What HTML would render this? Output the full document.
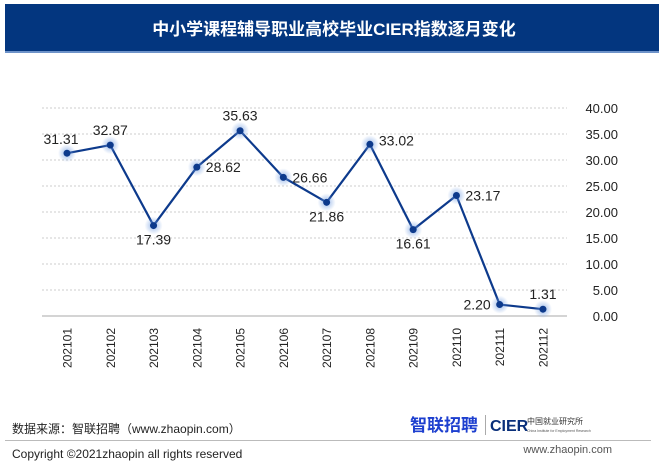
<!DOCTYPE html>
<html><head><meta charset="utf-8"><style>
body{margin:0;background:#fff;width:659px;height:468px;overflow:hidden;font-family:"Liberation Sans","Noto Sans CJK SC",sans-serif;}
</style></head><body>
<svg width="659" height="468" xmlns="http://www.w3.org/2000/svg">
<defs><radialGradient id="glow"><stop offset="0" stop-color="#6f9be0" stop-opacity="0.7"/><stop offset="1" stop-color="#6f9be0" stop-opacity="0"/></radialGradient></defs>
<rect x="5" y="4" width="654" height="48" fill="#03367f"/>
<rect x="5" y="51" width="654" height="2" fill="#6e93c9"/>
<text x="334" y="35" text-anchor="middle" font-size="17" font-weight="bold" fill="#fff" font-family="Liberation Sans,Noto Sans CJK SC,sans-serif">中小学课程辅导职业高校毕业CIER指数逐月变化</text>
<g id="grid"></g><g id="yticks"></g><g id="xticks"></g><g id="series"></g>
<text x="12" y="433" font-size="12" fill="#222">数据来源：智联招聘（www.zhaopin.com）</text>
<text x="410" y="431" font-size="17" font-weight="bold" fill="#1d3fcf">智联招聘</text>
<rect x="485" y="415" width="1" height="20" fill="#aaa"/>
<text x="490" y="431" font-size="16" font-weight="bold" fill="#0a2f7a">CIER</text>
<text x="527" y="424" font-size="8" fill="#333">中国就业研究所</text>
<text x="527" y="432" font-size="3.5" fill="#555">China Institute for Employment Research</text>
<rect x="5" y="440" width="646" height="1" fill="#bbb"/>
<text x="12" y="458" font-size="12" fill="#222">Copyright ©2021zhaopin all rights reserved</text>
<text x="612" y="453" text-anchor="end" font-size="11" fill="#555">www.zhaopin.com</text>
</svg>
<script>
const categories=["202101","202102","202103","202104","202105","202106","202107","202108","202109","202110","202111","202112"];
const values=[31.31,32.87,17.39,28.62,35.63,26.66,21.86,33.02,16.61,23.17,2.20,1.31];
const yTicks=[0,5,10,15,20,25,30,35,40];
const labelPos=["al","a","b","r","a","r","b","r","b","r","l","a"];
const NS="http://www.w3.org/2000/svg";
const x=i=>67+i*43.27, y=v=>316-v*5.2;
function mk(t,a,p,txt){const e=document.createElementNS(NS,t);for(const k in a)e.setAttribute(k,a[k]);if(txt!==undefined)e.textContent=txt;document.getElementById(p).appendChild(e);return e;}
yTicks.forEach(t=>{
 let g=mk('line',{x1:42,x2:567,y1:y(t),y2:y(t),stroke:t===0?'#bbb':'#ccc','stroke-width':t===0?1.2:1,'stroke-dasharray':t===0?'':'2,2'},'grid');
 
 
 let l=mk('text',{x:618,y:y(t)+5,'text-anchor':'end','font-size':13,fill:'#222'},'yticks',t.toFixed(2));
 
 
});
categories.forEach((c,i)=>{
 let l=mk('text',{x:0,y:0,'text-anchor':'end','font-size':12,fill:'#222',transform:`translate(${x(i)+4.5},328) rotate(-90)`},'xticks',c);
 
 
});
const line=mk('polyline',{points:values.map((v,i)=>x(i)+','+y(v)).join(' '),fill:'none',stroke:'#0d3a8c','stroke-width':2.2},'series');


values.forEach((v,i)=>{
 mk('circle',{cx:x(i),cy:y(v),r:9,fill:'url(#glow)'},'series');
 let p=mk('circle',{cx:x(i),cy:y(v),r:3.5,fill:'#0d3a8c'},'series');
 
 
 let px=x(i),py=y(v),a='middle';
 const pos=labelPos[i];
 if(pos==='a'){py-=10;}else if(pos==='al'){px-=6;py-=9;}else if(pos==='b'){py+=19;}else if(pos==='r'){px+=9;py+=5;a='start';}else if(pos==='l'){px-=9;py+=5;a='end';}
 if(i===7){py-=4;}
 let l=mk('text',{x:px,y:py,'text-anchor':a,'font-size':14,fill:'#222'},'series',v.toFixed(2));
 
 
});
</script>
</body></html>
